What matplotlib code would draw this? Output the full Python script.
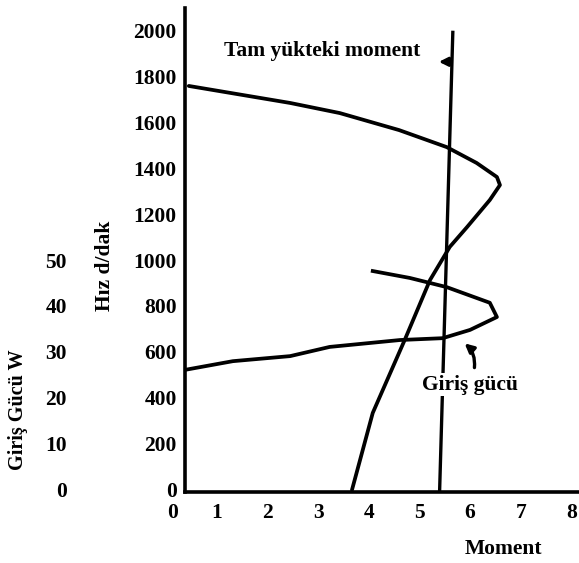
import matplotlib
matplotlib.use("Agg")
import matplotlib.pyplot as plt
import matplotlib.transforms as mtransforms

# ---- data ----
# Speed-torque curve (Hız d/dak vs Moment)
speed_torque = [0.45, 2.45, 3.43, 4.60, 5.54, 6.13, 6.53, 6.59, 6.39, 5.94, 5.60, 5.21, 4.71, 4.08, 3.67]
speed_rpm    = [1757, 1683, 1639, 1565, 1491, 1422, 1361, 1326, 1261, 1143, 1057, 913, 652, 335, 0]

# Input power curve (Giriş gücü, W vs Moment)
power_torque = [0.37, 1.32, 2.45, 3.23, 4.62, 5.46, 6.00, 6.53, 6.39, 5.54, 4.81, 4.08]
power_w      = [26.1, 28.0, 29.1, 31.1, 32.6, 33.0, 34.8, 37.6, 40.7, 44.1, 46.1, 47.6]

# Full-load torque line (Tam yükteki moment)
fullload_torque = [5.40, 5.66]
fullload_speed  = [0, 1990]

x_ticks = [1, 2, 3, 4, 5, 6, 7, 8]
speed_ticks = [0, 200, 400, 600, 800, 1000, 1200, 1400, 1600, 1800, 2000]
power_ticks = [0, 10, 20, 30, 40, 50]

# ---- style ----
FONT = "Liberation Serif"
plt.rcParams["font.family"] = [FONT, "DejaVu Serif"]
plt.rcParams["font.weight"] = "bold"

W, H = 579, 563
fig = plt.figure(figsize=(W / 100, H / 100), dpi=100)
ax = fig.add_axes([185 / W, 1 - 492 / H, 1 - 185 / W, (492 - 8) / H])

XMIN, XMAX = 0.375, 8.15
YMIN, YMAX = -9, 2096
ax.set_xlim(XMIN, XMAX)
ax.set_ylim(YMIN, YMAX)

lw = 2.7
ax.plot(speed_torque, speed_rpm, color="black", lw=lw, solid_capstyle="round")
ax.plot(fullload_torque, fullload_speed, color="black", lw=2.4)

for s in ["top", "right"]:
    ax.spines[s].set_visible(False)
for s in ["left", "bottom"]:
    ax.spines[s].set_linewidth(2.6)

tick_fs = 15.5
ax.set_xticks(x_ticks)
ax.set_xticklabels([str(v) for v in x_ticks], fontsize=tick_fs, fontweight="bold")
ax.set_yticks(speed_ticks)
ax.set_yticklabels([str(v) for v in speed_ticks], fontsize=tick_fs, fontweight="bold")
ax.tick_params(axis="both", length=0)
ax.tick_params(axis="x", pad=8)
ax.tick_params(axis="y", pad=6)

# "0" on the x axis sits left of the y spine
trans = mtransforms.blended_transform_factory(ax.transData, ax.transAxes)
ax.text(0.12, -(513 - 492) / 484, "0", transform=trans, ha="center", va="center",
        fontsize=tick_fs, fontweight="bold", clip_on=False)

ax.set_ylabel("Hız d/dak", fontsize=15.5, fontweight="bold")
ax.yaxis.set_label_coords(-(185 - 115) / (W - 185), (492 - 266) / 484)
ax.set_xlabel("Moment", fontsize=15.5, fontweight="bold")
ax.xaxis.set_label_coords((503 - 185) / (W - 185), -(539 - 492) / 484)

# secondary (power) axis on the left
ax2 = ax.twinx()
ax2.set_ylim(YMIN / 20, YMAX / 20)
ax2.plot(power_torque, power_w, color="black", lw=lw)
ax2.yaxis.set_ticks_position("left")
ax2.yaxis.set_label_position("left")
ax2.spines["left"].set_position(("outward", 82))
for s in ["left", "right", "top", "bottom"]:
    ax2.spines[s].set_visible(False)
ax2.set_yticks(power_ticks)
ax2.set_yticklabels([str(v) for v in power_ticks], fontsize=tick_fs, fontweight="bold")
ax2.tick_params(axis="y", length=0, pad=3)
ax2.set_ylabel("Giriş Gücü W", fontsize=14.5, fontweight="bold")
ax2.yaxis.set_label_coords(-(185 - 28) / (W - 185), (492 - 410) / 484)

# annotations
ax.text(3.08, 1910, "Tam yükteki moment", fontsize=15.5, fontweight="bold",
        ha="center", va="center")
ax.annotate("", xy=(5.33, 1862), xytext=(5.64, 1862),
            arrowprops=dict(arrowstyle="-|>", color="black", lw=2.2, mutation_scale=13))

ax.text(5.99, 458, "Giriş gücü", fontsize=15.5, fontweight="bold", ha="center", va="center",
        bbox=dict(facecolor="white", edgecolor="none", pad=1))
ax.annotate("", xy=(5.85, 645), xytext=(6.08, 520),
            arrowprops=dict(arrowstyle="-|>", color="black", lw=2.4, mutation_scale=13,
                            connectionstyle="arc3,rad=0.3"))

fig.savefig("out.png", dpi=100, facecolor="white")
